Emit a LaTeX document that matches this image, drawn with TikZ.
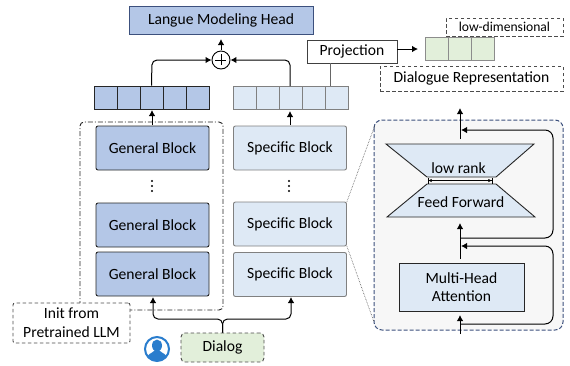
\documentclass[tikz,border=0pt]{standalone}
\usepackage{fontspec}
\setmainfont{Carlito}
\usetikzlibrary{arrows}
\usetikzlibrary{arrows.meta}
\usetikzlibrary{calc}
\definecolor{genblue}{RGB}{180,199,231}
\definecolor{spcblue}{RGB}{222,233,245}
\definecolor{dlggreen}{RGB}{226,239,218}
\definecolor{panelnavy}{RGB}{60,80,125}
\definecolor{usrblue}{RGB}{42,125,205}
\tikzset{l/.style={font=\fontsize{15.6}{17}\selectfont}}
\tikzset{m/.style={font=\fontsize{13.6}{14}\selectfont}}
\tikzset{conn/.style={line width=1pt,black,-{Latex[length=6pt,width=6.5pt]},rounded corners=5pt}}
\tikzset{genblock/.style={l,draw=black!85,line width=0.9pt,fill=genblue,rounded corners=2pt,minimum width=113pt,minimum height=44pt,inner sep=0pt}}
\tikzset{spcblock/.style={l,draw=black!50,line width=0.9pt,fill=spcblue,rounded corners=2pt,minimum width=113pt,minimum height=44pt,inner sep=0pt}}
\tikzset{dashbox/.style={l,draw=black!70,dash pattern=on 3.5pt off 2.5pt,line width=0.9pt,inner sep=0pt}}
\tikzset{gencell/.style={draw=black!85,line width=0.9pt,fill=genblue,minimum width=23pt,minimum height=23pt,inner sep=0pt}}
\tikzset{spccell/.style={draw=black!50,line width=0.9pt,fill=spcblue,minimum width=23pt,minimum height=23pt,inner sep=0pt}}
\tikzset{grncell/.style={draw=black!45,line width=0.9pt,fill=dlggreen,minimum width=23pt,minimum height=23pt,inner sep=0pt}}
\begin{document}
\begin{tikzpicture}[x=1pt,y=-1pt]
  \useasboundingbox (0,0) rectangle (570,365);
  % zoom panel and the dash-dotted group go underneath
  \filldraw [panelnavy,fill=black!3,dash pattern=on 4pt off 2pt,line width=1pt,rounded corners=8pt] (374,120) rectangle (563,330);
  \node (panel) at (468.5,225) [minimum width=189pt,minimum height=210pt,inner sep=0pt] {};
  \draw [black!85,dash pattern=on 5pt off 2pt on 1pt off 2pt,line width=0.9pt,rounded corners=4pt] (80,310) -- (80,122) -- (223,122) -- (223,310) -- cycle;
  % top row
  \node (head) at (221,20) [l,draw=panelnavy,line width=0.9pt,fill=genblue,minimum width=184pt,minimum height=28pt,inner sep=0pt] {Langue Modeling Head};
  \node (plus) at (221,60) [circle,draw=black,line width=0.9pt,minimum size=18pt,inner sep=0pt] {};
  \draw [line width=0.8pt] (plus.west)++(3.5,0) -- ++(11,0) (plus.north)++(0,3.5) -- ++(0,11);
  % token rows
  \foreach \i in {0,...,4} {
    \node (g\i) at (105.5+\i*23,97.5) [gencell] {};
    \node (s\i) at (245+\i*23,97.5) [spccell] {};
  }
  \foreach \i in {0,1,2} {
    \node (d\i) at (436.5+\i*23,48.5) [grncell] {};
  }
  % blocks
  \node (G1) at (152.5,148) [genblock] {General Block};
  \node (G2) at (152.5,225) [genblock] {General Block};
  \node (G3) at (152.5,274) [genblock] {General Block};
  \node (S1) at (290,148) [spcblock] {Specific Block};
  \node (S2) at (290,224) [spcblock] {Specific Block};
  \node (S3) at (290,274.5) [spcblock] {Specific Block};
  \foreach \y in {181,186,191} {
    \fill (152,\y) circle (1.2pt);
    \fill (289,\y) circle (1.2pt);
  }
  % labels
  \node (proj) at (352,51.5) [l,draw=black!75,line width=0.9pt,fill=white,minimum width=90pt,minimum height=23pt,inner sep=0pt] {Projection};
  \node (lowdim) at (504.5,27) [dashbox,m,minimum width=117pt,minimum height=18pt] {low-dimensional};
  \node (rep) at (471.5,78.5) [dashbox,minimum width=183pt,minimum height=25pt] {Dialogue Representation};
  \node (init) at (71.5,323) [dashbox,fill=white,rounded corners=2pt,minimum width=117pt,minimum height=40pt,align=center] {Init from\\[2pt]Pretrained LLM};
  \node (dialog) at (222.5,347.5) [dashbox,fill=dlggreen,rounded corners=4pt,minimum width=83pt,minimum height=29pt] {Dialog};
  % user icon
  \node (user) at (157,349) [circle,draw=usrblue,line width=2pt,fill=white,minimum size=24pt,inner sep=0pt] {};
  \begin{scope}
    \clip (user) circle (12pt);
    \fill [usrblue] (157,345.5) ellipse (5pt and 6pt);
    \fill [usrblue] (146,362) .. controls (146,353) and (152,354) .. (155,350) -- (159,350) .. controls (162,354) and (168,353) .. (168,362) -- cycle;
  \end{scope}
  % zoom panel content
  \coordinate (t1) at (386,144);
  \coordinate (t2) at (534,144);
  \coordinate (t3) at (496,177);
  \coordinate (t4) at (427,177);
  \coordinate (b1) at (427,184);
  \coordinate (b2) at (496,184);
  \coordinate (b3) at (535,217);
  \coordinate (b4) at (387,217);
  \filldraw [draw=black!85,fill=spcblue,line width=0.9pt] (t1)--(t2)--(t3)--(t4)--cycle;
  \filldraw [draw=black!85,fill=spcblue,line width=0.9pt] (b1)--(b2)--(b3)--(b4)--cycle;
  \node (lowrank) at (458.5,168) [l,inner sep=0pt] {low rank};
  \node (ff) at (461,202) [l,inner sep=0pt] {Feed Forward};
  \node (mha) at (461.5,287) [l,draw=black!85,line width=0.9pt,fill=spcblue,minimum width=125pt,minimum height=48pt,inner sep=0pt,align=center] {Multi-Head\\[1pt]Attention};
  \coordinate (wl) at (427.5,180.5);
  \coordinate (wr) at (492.5,180.5);
  \draw [line width=0.7pt,{Bar[width=6pt]Latex[length=3.5pt,width=3.5pt]}-{Latex[length=3.5pt,width=3.5pt]Bar[width=6pt]}] (wl) -- (wr);
  % connectors
  \coordinate (gup) at (152,125);
  \coordinate (gtop) at (152,110);
  \coordinate (sup) at (290,125);
  \coordinate (stop) at (290,111);
  \draw [conn] (gup) -- (gtop);
  \draw [conn] (sup) -- (stop);
  \draw [conn] (plus.north) ++(0,-1) -- (221,39);
  \draw [conn] (g2.north) -- (152,60) -- (plus.west);
  \draw [conn] (290,86) -- (290,60) -- (plus.east);
  \draw [line width=1pt,black!60] (330,63) -- (330,86);
  \draw [conn] (proj.east) ++(0,-2.5) -- (418,49);
  \draw [conn] (dialog.north) -- (222.5,319) -- (153,319) -- (153,297);
  \draw [conn] (dialog.north) -- (222.5,319) -- (291,319) -- (291,297);
  \coordinate (pin) at (460,334);
  \coordinate (pout) at (460,108);
  \draw [conn] (pin) -- (460,315);
  \draw [conn] (460,259) -- (460,223);
  \draw [conn] (460,139) -- (pout);
  \draw [conn,rounded corners=8pt] (460,238) -- (553,238) -- (553,130) -- (461,130);
  \draw [conn,rounded corners=8pt] (460,324) -- (553,324) -- (553,246) -- (461,246);
  % dotted zoom lines
  \draw [black!70,densely dotted,line width=0.6pt] (S2.north east) -- (375,125);
  \draw [black!70,densely dotted,line width=0.6pt] (S2.south east) -- (374,322);
\end{tikzpicture}
\end{document}
